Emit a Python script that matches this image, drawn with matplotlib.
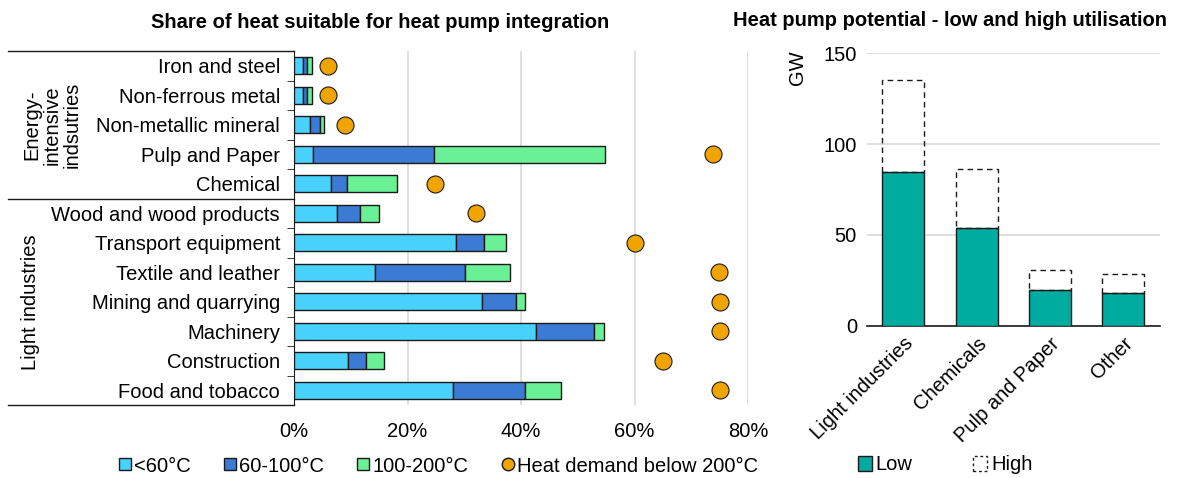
import numpy as np
import matplotlib
matplotlib.use("Agg")
import matplotlib.pyplot as plt
from matplotlib.lines import Line2D
from matplotlib.patches import Patch
import matplotlib.transforms as mtransforms

plt.rcParams["font.family"] = ["Liberation Sans", "DejaVu Sans"]

# left panel data (shares of heat demand)
sectors = ["Iron and steel", "Non-ferrous metal", "Non-metallic mineral", "Pulp and Paper",
           "Chemical", "Wood and wood products", "Transport equipment", "Textile and leather",
           "Mining and quarrying", "Machinery", "Construction", "Food and tobacco"]
below_60 = [1.5, 1.5, 2.9, 3.3, 6.6, 7.6, 28.5, 14.3, 33.2, 42.7, 9.5, 28.0]
from_60_100 = [0.8, 0.8, 1.6, 21.3, 2.8, 4.0, 5.0, 15.9, 6.0, 10.1, 3.1, 12.7]
from_100_200 = [0.9, 0.9, 0.8, 30.2, 8.7, 3.4, 3.9, 7.9, 1.5, 1.8, 3.2, 6.4]
demand_below_200 = [6.0, 6.0, 9.0, 73.9, 24.9, 32.0, 60.0, 74.9, 75.0, 75.0, 65.0, 75.0]

# right panel data (GW)
hp_groups = ["Light industries", "Chemicals", "Pulp and Paper", "Other"]
hp_low = [84.5, 54.0, 19.5, 17.8]
hp_high = [135.3, 86.5, 30.8, 28.3]

c_lt = "#4AD2FF"
c_mid = "#3C7BD3"
c_hi = "#6AF195"
c_dot = "#F0A400"
c_low = "#00AC9F"
grid_c = "#D9D9D9"
fs = 14.5

fig = plt.figure(figsize=(11.84, 4.78), dpi=100)

# ---- left: stacked horizontal bars
ax = fig.add_axes([294 / 1184, 1 - 405 / 478, 454 / 1184, 354 / 478])
y = np.arange(len(sectors))
a = np.array(below_60) / 100
b = np.array(from_60_100) / 100
c = np.array(from_100_200) / 100
h = 0.57
ax.barh(y, a, height=h, color=c_lt, edgecolor="#1a1a1a", lw=1, zorder=3)
ax.barh(y, b, left=a, height=h, color=c_mid, edgecolor="#1a1a1a", lw=1, zorder=3)
ax.barh(y, c, left=a + b, height=h, color=c_hi, edgecolor="#1a1a1a", lw=1, zorder=3)
ax.scatter(np.array(demand_below_200) / 100, y, s=150, color=c_dot, edgecolor="#1a1a1a",
           lw=0.8, zorder=4)

ax.set_xlim(0, 0.8)
ax.set_ylim(len(sectors) - 0.5, -0.5)
ax.set_xticks([0, 0.2, 0.4, 0.6, 0.8])
ax.set_xticklabels(["0%", "20%", "40%", "60%", "80%"])
ax.xaxis.grid(True, color=grid_c, lw=1.2)
ax.set_axisbelow(True)
ax.tick_params(axis="x", length=0, pad=12, labelsize=fs)
ax.set_yticks(y)
ax.set_yticklabels(sectors, fontsize=fs)
ax.tick_params(axis="y", length=0, pad=10)
ax.set_yticks(np.arange(-0.5, len(sectors)), minor=True)
ax.tick_params(axis="y", which="minor", length=5, color="#1a1a1a")
for s in ["top", "right", "bottom"]:
    ax.spines[s].set_visible(False)
ax.spines["left"].set_color("#1a1a1a")

# group separators and labels
tr = mtransforms.blended_transform_factory(ax.transAxes, ax.transData)
for yy in [-0.5, 4.5, 11.5]:
    ax.plot([-0.63, 0], [yy, yy], color="#1a1a1a", lw=1, transform=tr, clip_on=False)
ax.text(-0.533, 2, "Energy-\nintensive\nindsutries", rotation=90, ha="center", va="center",
        fontsize=fs, linespacing=1.05, transform=tr)
ax.text(-0.58, 8, "Light industries", rotation=90, ha="center", va="center",
        fontsize=fs, transform=tr)

fig.text(380 / 1184, 1 - 22 / 478, "Share of heat suitable for heat pump integration",
         ha="center", va="center", fontsize=14.5, fontweight="bold")

handles = [
    Line2D([], [], marker="s", ls="", ms=8, mfc=c_lt, mec="#1a1a1a", label="<60°C"),
    Line2D([], [], marker="s", ls="", ms=8, mfc=c_mid, mec="#1a1a1a", label="60-100°C"),
    Line2D([], [], marker="s", ls="", ms=8, mfc=c_hi, mec="#1a1a1a", label="100-200°C"),
    Line2D([], [], marker="o", ls="", ms=9, mfc=c_dot, mec="#1a1a1a",
           label="Heat demand below 200°C"),
]
fig.legend(handles=handles, loc="center", bbox_to_anchor=(437 / 1184, 1 - 466 / 478), ncol=4,
           frameon=False, fontsize=fs, handletextpad=0.0, columnspacing=1.5,
           handlelength=0.9, borderpad=0)

# ---- right: low/high potential
ax2 = fig.add_axes([866.7 / 1184, 1 - 325.7 / 478, 293.3 / 1184, 272.4 / 478])
x = np.arange(len(hp_groups))
low = np.array(hp_low)
high = np.array(hp_high)
w = 0.57
ax2.bar(x, low, width=w, color=c_low, edgecolor="#1a1a1a", lw=1, zorder=3)
ax2.bar(x, high - low, bottom=low, width=w, facecolor="none", edgecolor="#1a1a1a", lw=1,
        ls=(0, (4, 3)), zorder=3)
ax2.set_xlim(-0.5, len(hp_groups) - 0.5)
ax2.set_ylim(0, 150)
ax2.set_yticks([0, 50, 100, 150])
ax2.yaxis.grid(True, color=grid_c, lw=1.2)
ax2.set_axisbelow(True)
ax2.tick_params(axis="y", length=0, pad=7, labelsize=fs)
ax2.set_xticks(x)
ax2.set_xticklabels(hp_groups, rotation=45, ha="right", rotation_mode="anchor", fontsize=fs)
ax2.tick_params(axis="x", length=0, pad=6)
for s in ["top", "right", "left"]:
    ax2.spines[s].set_visible(False)
ax2.spines["bottom"].set_color("#1a1a1a")
ax2.spines["bottom"].set_linewidth(1.2)
fig.text(797 / 1184, 1 - 68 / 478, "GW", rotation=90, ha="center", va="center", fontsize=fs)

fig.text(950 / 1184, 1 - 20 / 478, "Heat pump potential - low and high utilisation",
         ha="center", va="center", fontsize=14.5, fontweight="bold")

handles2 = [
    Patch(facecolor=c_low, edgecolor="#1a1a1a", label="Low"),
    Patch(facecolor="none", edgecolor="#1a1a1a", ls=(0, (2, 2)), label="High"),
]
fig.legend(handles=handles2, loc="center", bbox_to_anchor=(945 / 1184, 1 - 465 / 478), ncol=2,
           frameon=False, fontsize=fs, handletextpad=0.2, columnspacing=3.0,
           handlelength=0.7, handleheight=0.7, borderpad=0)

fig.savefig("out.png", dpi=100)
